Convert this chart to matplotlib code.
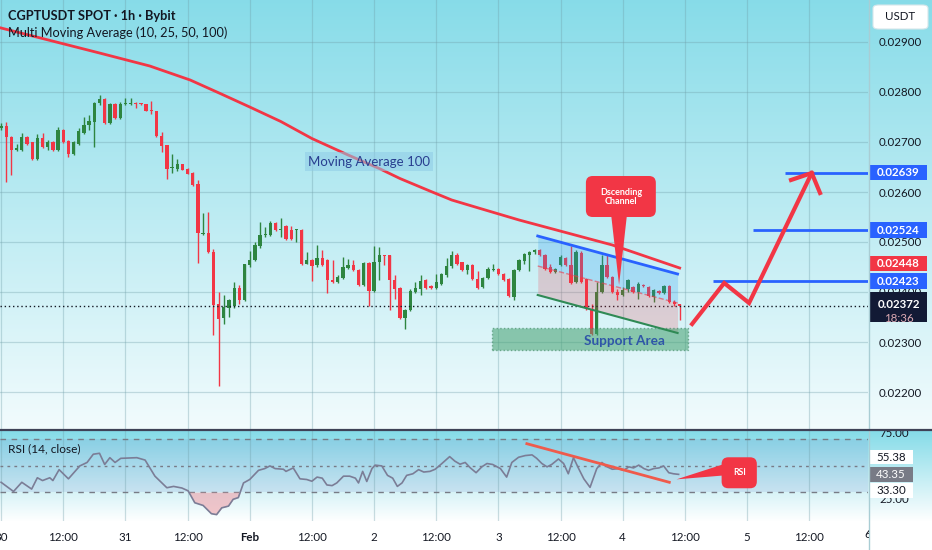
import numpy as np
import matplotlib.pyplot as plt
from matplotlib.patches import Rectangle, FancyBboxPatch, Polygon
from matplotlib.lines import Line2D
from matplotlib.transforms import Bbox, TransformedBbox

plt.rcParams['font.family'] = ['Lato', 'DejaVu Sans']

# ---- data (hours since Jan 30 00:00, 1h candles) ----
opens = [0.02728, 0.02732, 0.02711, 0.02684, 0.02684, 0.02711, 0.02699, 0.02667, 0.02707, 0.02691,
         0.02701, 0.02684, 0.02724, 0.02703, 0.02676, 0.02697, 0.02719, 0.02734, 0.02741, 0.02779,
         0.02787, 0.02739, 0.02777, 0.02749, 0.02776, 0.02776, 0.02779, 0.02777, 0.02776, 0.02764,
         0.02762, 0.02712, 0.02694, 0.02649, 0.02647, 0.02656, 0.02647, 0.02639, 0.02616, 0.02516,
         0.02519, 0.02481, 0.02376, 0.02349, 0.02369, 0.02372, 0.02409, 0.02385, 0.02454, 0.02465,
         0.02492, 0.02515, 0.02515, 0.02539, 0.02525, 0.02532, 0.02525, 0.02524, 0.02525, 0.02457,
         0.02464, 0.02454, 0.02469, 0.02464, 0.02425, 0.02421, 0.02429, 0.02449, 0.02454, 0.02445,
         0.02414, 0.02459, 0.02403, 0.02461, 0.02474, 0.02474, 0.02424, 0.02407, 0.02349, 0.02364,
         0.02401, 0.02407, 0.02423, 0.02412, 0.02409, 0.02417, 0.02434, 0.02452, 0.02474, 0.02459,
         0.02444, 0.02454, 0.02427, 0.02411, 0.02429, 0.02445, 0.02447, 0.02437, 0.02427, 0.02391,
         0.02444, 0.02463, 0.02474, 0.02481, 0.02484, 0.02474, 0.02451, 0.02441, 0.02454, 0.02469,
         0.02454, 0.02421, 0.02479, 0.02427, 0.02367, 0.02317, 0.02401, 0.02454, 0.02431, 0.02401,
         0.02394, 0.02407, 0.02411, 0.02401, 0.02414, 0.02411, 0.02391, 0.02403, 0.02399, 0.02412,
         0.02381, 0.02376]
highs = [0.02738, 0.02741, 0.02712, 0.02697, 0.02719, 0.02713, 0.02701, 0.02717, 0.02719, 0.02704,
         0.02703, 0.02731, 0.02726, 0.02704, 0.02703, 0.02729, 0.02751, 0.02754, 0.02781, 0.02794,
         0.02789, 0.02779, 0.02779, 0.02781, 0.02789, 0.02789, 0.02781, 0.02778, 0.02777, 0.02783,
         0.02763, 0.02721, 0.02695, 0.02677, 0.02667, 0.02657, 0.02648, 0.02640, 0.02624, 0.02559,
         0.02561, 0.02487, 0.02401, 0.02394, 0.02387, 0.02421, 0.02414, 0.02456, 0.02483, 0.02501,
         0.02541, 0.02531, 0.02543, 0.02541, 0.02549, 0.02535, 0.02532, 0.02527, 0.02527, 0.02481,
         0.02466, 0.02494, 0.02484, 0.02466, 0.02464, 0.02434, 0.02471, 0.02467, 0.02465, 0.02447,
         0.02461, 0.02461, 0.02492, 0.02491, 0.02475, 0.02475, 0.02434, 0.02411, 0.02366, 0.02406,
         0.02421, 0.02434, 0.02427, 0.02414, 0.02437, 0.02438, 0.02469, 0.02483, 0.02479, 0.02461,
         0.02456, 0.02456, 0.02443, 0.02431, 0.02451, 0.02456, 0.02449, 0.02439, 0.02429, 0.02446,
         0.02466, 0.02478, 0.02483, 0.02487, 0.02487, 0.02476, 0.02457, 0.02449, 0.02474, 0.02471,
         0.02492, 0.02484, 0.02482, 0.02429, 0.02377, 0.02421, 0.02474, 0.02474, 0.02433, 0.02407,
         0.02411, 0.02427, 0.02413, 0.02421, 0.02417, 0.02413, 0.02407, 0.02405, 0.02414, 0.02414,
         0.02384, 0.02377]
lows = [0.02725, 0.02621, 0.02634, 0.02683, 0.02682, 0.02695, 0.02665, 0.02665, 0.02689, 0.02684,
        0.02682, 0.02683, 0.02699, 0.02671, 0.02674, 0.02695, 0.02716, 0.02725, 0.02691, 0.02774,
        0.02737, 0.02737, 0.02747, 0.02747, 0.02774, 0.02775, 0.02769, 0.02775, 0.02762, 0.02757,
        0.02711, 0.02681, 0.02626, 0.02639, 0.02643, 0.02644, 0.02636, 0.02613, 0.02459, 0.02514,
        0.02479, 0.02314, 0.02212, 0.02336, 0.02351, 0.02369, 0.02376, 0.02383, 0.02451, 0.02463,
        0.02489, 0.02511, 0.02513, 0.02523, 0.02511, 0.02505, 0.02505, 0.02501, 0.02455, 0.02456,
        0.02423, 0.02451, 0.02452, 0.02399, 0.02419, 0.02419, 0.02427, 0.02446, 0.02442, 0.02412,
        0.02412, 0.02372, 0.02401, 0.02424, 0.02454, 0.02365, 0.02387, 0.02347, 0.02327, 0.02362,
        0.02399, 0.02394, 0.02407, 0.02407, 0.02407, 0.02415, 0.02431, 0.02449, 0.02455, 0.02442,
        0.02437, 0.02425, 0.02407, 0.02409, 0.02427, 0.02442, 0.02434, 0.02423, 0.02390, 0.02385,
        0.02442, 0.02457, 0.02443, 0.02477, 0.02472, 0.02445, 0.02439, 0.02439, 0.02452, 0.02452,
        0.02417, 0.02419, 0.02419, 0.02365, 0.02314, 0.02314, 0.02399, 0.02429, 0.02399, 0.02384,
        0.02392, 0.02401, 0.02399, 0.02387, 0.02410, 0.02390, 0.02381, 0.02397, 0.02397, 0.02379,
        0.02372, 0.02344]
closes = [0.02732, 0.02711, 0.02684, 0.02687, 0.02711, 0.02697, 0.02667, 0.02707, 0.02691, 0.02701,
          0.02684, 0.02724, 0.02701, 0.02676, 0.02701, 0.02721, 0.02734, 0.02743, 0.02779, 0.02787,
          0.02739, 0.02777, 0.02749, 0.02776, 0.02777, 0.02778, 0.02777, 0.02776, 0.02763, 0.02762,
          0.02712, 0.02692, 0.02647, 0.02650, 0.02656, 0.02645, 0.02637, 0.02614, 0.02519, 0.02519,
          0.02481, 0.02374, 0.02347, 0.02371, 0.02385, 0.02409, 0.02385, 0.02456, 0.02465, 0.02494,
          0.02515, 0.02517, 0.02539, 0.02525, 0.02527, 0.02507, 0.02507, 0.02525, 0.02457, 0.02464,
          0.02452, 0.02469, 0.02454, 0.02424, 0.02421, 0.02431, 0.02451, 0.02454, 0.02444, 0.02414,
          0.02459, 0.02403, 0.02461, 0.02474, 0.02472, 0.02424, 0.02407, 0.02349, 0.02364, 0.02403,
          0.02409, 0.02423, 0.02409, 0.02409, 0.02421, 0.02436, 0.02452, 0.02474, 0.02457, 0.02444,
          0.02454, 0.02427, 0.02409, 0.02429, 0.02447, 0.02447, 0.02436, 0.02425, 0.02392, 0.02444,
          0.02464, 0.02476, 0.02481, 0.02484, 0.02474, 0.02447, 0.02441, 0.02447, 0.02471, 0.02454,
          0.02419, 0.02481, 0.02421, 0.02367, 0.02317, 0.02401, 0.02454, 0.02431, 0.02401, 0.02394,
          0.02405, 0.02425, 0.02401, 0.02417, 0.02412, 0.02392, 0.02404, 0.02399, 0.02412, 0.02381,
          0.02377, 0.02372]

ma_hours = [0, 19, 28.7, 36.5, 42.3, 48, 54, 60, 67, 73, 77, 83, 87, 92.5, 100, 118, 131]
ma100 = [0.02928, 0.02878, 0.02852, 0.02824, 0.02797, 0.02770, 0.02741, 0.02707, 0.02674,
         0.02647, 0.02627, 0.02601, 0.02584, 0.02567, 0.02544, 0.02494, 0.02448]

rsi_hours = [0, 2.4, 4, 5.9, 7, 8, 9.4, 10, 11.2, 13, 15.2, 16.6, 17.8, 19, 20, 21, 22, 23.1, 26.2,
             27.8, 29.7, 32, 33.3, 34.9, 36.1, 37.4, 39, 40.6, 41.6, 42.6, 43.9, 44.8, 45.8, 46.8,
             48, 49.7, 50.9, 51.9, 52.9, 54.5, 55, 56.4, 57.7, 59, 60, 61, 62, 62.9, 63.9, 64.8,
             66.1, 67.3, 68.4, 69, 69.8, 70.6, 71.6, 72.2, 73.5, 74.6, 75.6, 76.5, 77.4, 78.3, 79.5,
             80.6, 81.6, 82.8, 83.8, 85.1, 86.6, 87.6, 88.6, 89.6, 90.6, 91.7, 92.8, 93.8, 94.9,
             96.4, 97.6, 98.6, 99.9, 101.2, 102.5, 103.4, 104.4, 105.4, 106.3, 107.6, 108.6, 109.5,
             110.5, 111.5, 112.5, 113.7, 115, 116, 117, 118, 119.2, 120.2, 121.2, 122.1, 123.1,
             124.1, 125, 126, 127, 127.9, 128.9, 129.8, 130.8]
rsi_values = [37.4, 30.5, 37.4, 32.3, 40.8, 38.7, 40.8, 38.7, 46.9, 40.0, 49.7, 52.3, 58.5, 59.2,
              50.8, 55.9, 52.3, 55.4, 55.9, 54.1, 42.0, 33.3, 34.3, 33.1, 31.0, 22.0, 20.0, 13.8,
              13.1, 18.2, 19.5, 24.6, 25.9, 36.9, 39.5, 46.4, 47.7, 49.7, 47.7, 47.2, 45.6, 48.2,
              40.0, 39.5, 38.2, 41.3, 40.5, 35.4, 34.9, 36.9, 42.0, 42.0, 40.5, 36.9, 45.6, 38.0,
              47.7, 50.3, 49.7, 42.6, 40.5, 34.3, 36.9, 42.6, 43.8, 46.9, 45.1, 45.6, 47.2, 51.5,
              56.7, 53.3, 51.0, 52.3, 48.2, 44.6, 49.0, 51.5, 50.8, 47.7, 41.3, 52.3, 56.2, 57.5,
              58.0, 55.4, 51.5, 49.0, 50.8, 54.9, 51.5, 43.8, 55.9, 47.7, 40.0, 33.6, 47.7, 52.3,
              49.0, 47.2, 47.7, 46.4, 49.0, 48.2, 50.3, 47.7, 46.4, 47.7, 48.2, 49.7, 44.6, 43.8,
              43.35]

price_ticks = [0.022, 0.023, 0.024, 0.025, 0.026, 0.027, 0.028, 0.029]
time_ticks = list(range(0, 168, 12))
time_labels = ['30', '12:00', '31', '12:00', 'Feb', '12:00', '2', '12:00', '3', '12:00',
               '4', '12:00', '5', '12:00']

# drawings on the chart (hour, price)
channel_x = [103.6, 130.6]
channel_top = [0.02512, 0.02436]
channel_mid = [0.02452, 0.02378]
channel_bot = [0.02394, 0.02318]
support_x = [94.8, 132.6]
support_y = [0.02284, 0.02328]
path_x = [133.4, 139.6, 144.4, 156.5]
path_y = [0.02336, 0.02418, 0.02378, 0.02638]
head_x = [152.5, 156.5, 158.1]
head_y = [0.02624, 0.02638, 0.02598]
targets = [0.02639, 0.02524, 0.02423]
target_start = [151.3, 145.2, 137.4]
ma_last = 0.02448
rsi_trend_x = [101.5, 129]
rsi_trend_y = [66.4, 37.4]

W, H = 932, 550
fig = plt.figure(figsize=(W / 100, H / 100), dpi=100)


def px_box(x0, y0, x1, y1):
    return [x0 / W, 1 - y1 / H, (x1 - x0) / W, (y1 - y0) / H]


# background gradient
bg = fig.add_axes([0, 0, 1, 1], zorder=-10)
grad = np.ones((H, 1, 3))
t = np.linspace(0, 1, 430)[:, None]
grad[:430, 0] = np.array([0.53, 0.862, 0.912]) * (1 - t) + np.array([0.95, 0.986, 0.992]) * t
t = np.linspace(0, 1, 92)[:, None]
grad[430:522, 0] = np.array([0.52, 0.86, 0.91]) * (1 - t) + np.array([1.0, 1.0, 1.0]) * t
bg.imshow(grad, aspect='auto', extent=[0, 1, 0, 1])
bg.axis('off')

ax = fig.add_axes(px_box(0, 0, 868, 429))
ax2 = fig.add_axes(px_box(0, 430, 868, 521))
for a in (ax, ax2):
    a.patch.set_visible(False)
    for s in a.spines.values():
        s.set_visible(False)
    a.set_xlim(-0.21, 167.36)
    a.set_xticks(time_ticks)
    a.grid(True, color='#6f9ea8', alpha=0.35, lw=0.9)
    a.set_axisbelow(True)

ax.set_ylim(0.02126, 0.02984)
ax.set_yticks(price_ticks)
ax.set_yticklabels(['%.5f' % p for p in price_ticks])
ax.yaxis.tick_right()
ax.tick_params(axis='y', length=0, pad=8, labelsize=8.3, labelcolor='#131722')
ax.tick_params(axis='x', length=0, labelbottom=False)

# candles
green, red = '#2e8540', '#f23645'
hours = np.arange(len(closes))
for h, o, hi, lo, c in zip(hours, opens, highs, lows, closes):
    col = green if c >= o else red
    ax.vlines(h, lo, hi, color=col, lw=1, zorder=2)
    ax.bar(h, max(abs(c - o), 0.00002), bottom=min(o, c), width=0.64, color=col, zorder=2)

ax.plot(ma_hours, ma100, color=red, lw=2, zorder=3)
ax.axhline(closes[-1], color='#131722', lw=1, ls=(0, (1, 2)), zorder=3)

# descending channel
ax.fill_between(channel_x, channel_top, channel_mid, color='#2196f3', alpha=0.22, lw=0, zorder=4)
ax.fill_between(channel_x, channel_mid, channel_bot, color='#f23645', alpha=0.2, lw=0, zorder=4)
ax.plot(channel_x, channel_top, color='#2962ff', lw=2, zorder=5)
ax.plot(channel_x, channel_mid, color=red, lw=1, ls='--', alpha=0.6, zorder=5)
ax.plot(channel_x, channel_bot, color='#2f8a55', lw=1.5, zorder=5)

# support area
ax.add_patch(Rectangle((support_x[0], support_y[0]), support_x[1] - support_x[0],
                       support_y[1] - support_y[0], facecolor='#43a06e', alpha=0.55,
                       edgecolor='#2c7a50', ls=':', lw=1, zorder=4))
ax.text(120.3, 0.02302, 'Support Area', color='#2f56a8', fontsize=9.8, fontweight='bold',
        ha='center', va='center', zorder=6)

# callout "Dscending Channel"
ax.add_patch(FancyBboxPatch((112.9, 0.02550), 13.5, 0.00082,
                            boxstyle='round,pad=0,rounding_size=1.3',
                            mutation_aspect=1.036e-4, facecolor='#f23645', edgecolor='none', zorder=6))
ax.add_patch(Polygon([(117.8, 0.02552), (120.8, 0.02552), (119.3, 0.02414)], closed=True,
                     facecolor='#f23645', edgecolor='none', zorder=6))
ax.text(119.65, 0.02591, 'Dscending\nChannel', color='white', fontsize=6.5, fontweight='bold',
        ha='center', va='center', linespacing=1.0, zorder=7)

# projected path
ax.plot(path_x, path_y, color=red, lw=3, zorder=6, solid_joinstyle='miter')
ax.plot(head_x, head_y, color=red, lw=3, zorder=6, solid_joinstyle='miter')
ax.hlines(targets, target_start, 167.36, color='#2962ff', lw=2, zorder=5)

ax.text(71.0, 0.02661, 'Moving Average 100', color='#283e8f', fontsize=9.5, ha='center',
        va='center', zorder=6,
        bbox=dict(boxstyle='square,pad=0.25', facecolor='#8fcbe6', alpha=0.55, edgecolor='none'))

# price scale labels
ytr = ax.get_yaxis_transform()
scale_labels = [(0.02639, 0.02639, '#2962ff'), (0.02524, 0.02524, '#2962ff'),
                (ma_last, 0.02457, '#f23645'), (0.02423, 0.02422, '#2962ff')]
for val, ypos, col in scale_labels:
    ax.add_patch(Rectangle((1.0023, ypos - 0.000155), 0.0657, 0.00031, transform=ytr,
                           facecolor=col, edgecolor='none', clip_on=False, zorder=8))
    ax.text(1.0352, ypos, '%.5f' % val, transform=ytr, color='white', fontsize=8.3,
            fontweight='bold', ha='center', va='center', clip_on=False, zorder=9)
ax.add_patch(Rectangle((1.0023, 0.02372 - 0.00032), 0.0657, 0.0006, transform=ytr,
                       facecolor='#121a35', edgecolor='none', clip_on=False, zorder=8))
ax.text(1.0352, 0.02374, '%.5f' % closes[-1], transform=ytr, color='white', fontsize=8.3,
        fontweight='bold', ha='center', va='center', clip_on=False, zorder=9)
ax.text(1.0352, 0.02346, '18:36', transform=ytr, color='#dba9b3', fontsize=8.3,
        ha='center', va='center', clip_on=False, zorder=9)

# USDT button
fig.patches.append(FancyBboxPatch((873 / W, 1 - 29 / H), 55 / W, 24 / H,
                                  boxstyle='round,pad=0,rounding_size=0.006',
                                  transform=fig.transFigure, facecolor='white',
                                  edgecolor='#d6e6ea', lw=0.8, zorder=20))
fig.text(900.5 / W, 1 - 17 / H, 'USDT', color='#131722', fontsize=8.3, ha='center',
         va='center', zorder=21)

# titles
fig.text(8 / W, 1 - 16.5 / H, 'CGPTUSDT SPOT · 1h · Bybit', color='#131722', fontsize=9.2,
         fontweight='bold', va='center')
fig.text(8 / W, 1 - 33 / H, 'Multi Moving Average (10, 25, 50, 100)', color='#131722',
         fontsize=9.2, va='center')

# ---- RSI pane ----
ax2.set_ylim(8.3, 76.7)
ax2.grid(False, axis='y')
ax2.axhspan(30, 70, color='#5c6bc0', alpha=0.12, lw=0, zorder=0)
for lvl, st in ((70, (0, (4, 4))), (50, (0, (2, 3))), (30, (0, (4, 4)))):
    ax2.axhline(lvl, color='#787b86', lw=1, ls=st, zorder=1)
rv = np.array(rsi_values)
ax2.fill_between(rsi_hours, rv, 30, where=rv < 30, interpolate=True, color='#f0a1a9',
                 alpha=0.6, lw=0, zorder=2)
ax2.plot(rsi_hours, rsi_values, color='#7b7d96', lw=1.2, zorder=3)
ax2.plot(rsi_trend_x, rsi_trend_y, color='#ef5b4c', lw=2, zorder=4)

ax2.add_patch(FancyBboxPatch((139.1, 32.9), 6.8, 23.3, boxstyle='round,pad=0,rounding_size=1.3',
                             mutation_aspect=3.9, facecolor='#f23645', edgecolor='none', zorder=6))
ax2.add_patch(Polygon([(130.4, 39.6), (139.4, 50.9), (139.4, 42.5)], closed=True,
                      facecolor='#f23645', edgecolor='none', zorder=6))
ax2.text(142.5, 44.8, 'RSI', color='white', fontsize=6.2, fontweight='bold', ha='center',
         va='center', zorder=7)
ax2.text(0.009, 0.79, 'RSI (14, close)', transform=ax2.transAxes, color='#131722',
         fontsize=8.6, va='center')

ax2.set_yticks([25, 75])
ax2.set_yticklabels(['25.00', '75.00'])
ax2.yaxis.tick_right()
ax2.tick_params(axis='y', length=0, pad=8, labelsize=8.3, labelcolor='#131722')
ax2.set_xticklabels(time_labels)
ax2.tick_params(axis='x', length=0, pad=8, labelsize=8.3, labelcolor='#131722')
for lab in ax2.get_xticklabels():
    if lab.get_text() == 'Feb':
        lab.set_fontweight('bold')

ytr2 = ax2.get_yaxis_transform()
rsi_labels = [(55.38, 56.4, 'white', '#131722'), (43.35, 43.35, '#787b86', 'white'),
              (33.30, 31.2, 'white', '#131722')]
for val, ypos, fc, tc in rsi_labels:
    ax2.add_patch(Rectangle((1.0012, ypos - 5.4), 0.0507, 10.8, transform=ytr2, facecolor=fc,
                            edgecolor='none', clip_on=False, zorder=8))
    ax2.text(1.0265, ypos, '%.2f' % val, transform=ytr2, color=tc, fontsize=8.3, ha='center',
             va='center', clip_on=False, zorder=9)

t6 = fig.text(868 / W, 1 - 535 / H, '6', color='#131722', fontsize=8.3, ha='center', va='center')
t6.set_clip_box(TransformedBbox(Bbox([[0, 0], [869 / W, 1]]), fig.transFigure))
t6.set_clip_on(True)

# price scale border and pane divider
fig.add_artist(Line2D([868.5 / W] * 2, [0, 1], color='#a9cdd4', lw=1, zorder=1))
fig.add_artist(Line2D([0, 1], [1 - 429.5 / H] * 2, color='#3f4257', lw=1.6))

fig.savefig('out.png', dpi=100)
